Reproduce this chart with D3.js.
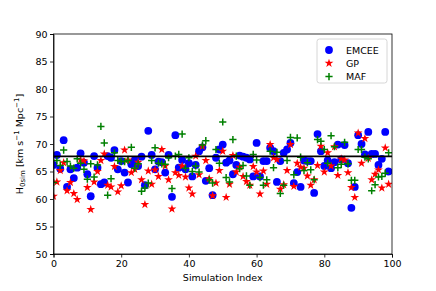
<!DOCTYPE html>
<meta charset="utf-8">
<style>
body { margin: 0; background: #fff; }
text { font-family: "DejaVu Sans", sans-serif; }
.axis text { font-size: 9.5px; fill: #000; }
.axis path, .axis line { stroke: #000; stroke-width: 0.8; }
</style>
<body>
<script src="https://cdn.jsdelivr.net/npm/d3@7"></script>
<script>

// H0 estimates per simulation
var emcee = [66.2,68.0,65.5,70.7,62.2,65.4,63.8,65.7,68.3,66.6,
             64.5,60.5,67.8,65.7,62.7,63.0,67.8,67.5,68.9,65.4,
             66.9,64.8,63.0,66.3,67.1,66.0,67.7,62.5,72.4,68.0,
             65.4,66.8,66.7,64.8,68.0,60.4,71.6,65.7,67.1,65.4,
             66.5,64.1,66.2,68.7,69.4,63.3,65.6,60.7,67.5,69.0,
             69.9,66.6,67.0,64.5,66.2,67.9,67.7,67.5,67.2,64.1,
             70.2,64.1,66.9,66.9,69.3,68.7,63.1,66.9,68.4,69.0,
             70.2,62.9,64.9,62.2,67.0,66.9,66.9,61.1,71.8,68.7,
             66.0,67.0,65.6,66.7,69.9,67.2,69.8,66.5,58.4,62.2,
             71.6,70.0,68.1,72.2,68.2,68.2,66.2,67.3,72.2,65.0];

var gp = [60.5,63.1,65.2,66.6,61.5,63.0,61.0,59.9,67.1,66.9,
          62.1,58.1,63.1,65.0,67.0,68.2,62.5,62.2,65.9,61.3,
          62.4,68.9,67.1,64.8,65.4,66.7,63.5,59.0,65.1,62.7,
          65.3,64.1,69.0,66.0,63.5,58.2,64.8,64.3,66.0,64.0,
          62.0,60.9,67.8,64.4,69.6,67.0,63.7,60.6,62.9,65.2,
          68.7,60.3,62.7,67.9,64.9,65.8,64.1,63.2,62.5,65.9,
          64.9,60.9,65.1,62.7,69.9,67.5,67.2,61.8,62.6,65.2,
          69.9,62.3,66.5,65.8,65.6,64.2,62.5,63.5,66.1,69.6,
          64.9,68.4,66.0,69.5,64.3,67.3,67.1,64.8,62.1,60.3,
          72.0,66.5,71.0,67.4,63.5,64.5,65.3,62.0,69.3,62.7];

var maf = [63.0,67.0,66.1,68.9,66.8,66.0,65.6,67.3,66.5,65.4,
           63.6,66.4,64.0,66.2,73.2,70.2,60.7,63.7,68.4,67.0,
           66.8,66.8,67.0,69.4,65.6,66.4,61.4,62.0,62.9,67.0,
           69.3,66.5,66.4,66.3,67.5,61.9,67.8,68.1,71.8,65.6,
           67.5,65.0,66.0,64.9,69.8,70.6,63.5,62.9,69.0,66.5,
           74.0,63.9,63.1,70.8,67.8,65.5,66.1,64.2,62.5,68.1,
           67.1,63.9,62.5,63.5,68.7,65.7,68.5,61.0,62.5,67.0,
           71.2,64.4,71.1,67.6,65.2,66.6,65.3,63.5,70.8,70.5,
           69.0,66.5,71.5,69.5,65.7,66.3,70.3,66.4,63.4,63.4,
           69.0,69.0,67.6,67.3,61.5,62.6,64.0,64.1,64.7,68.4];

var h0Ref = 67.74;
var xTicks = [0, 20, 40, 60, 80, 100];
var yTicks = [50, 55, 60, 65, 70, 75, 80, 85, 90];
var labels = ["EMCEE", "GP", "MAF"];
var colors = ["blue", "red", "green"];

var margin = {top: 34, right: 44, bottom: 37, left: 53.5},
    width = 436 - margin.left - margin.right,
    height = 291 - margin.top - margin.bottom;

var x = d3.scaleLinear().domain([0, 100]).range([0, width]);
var y = d3.scaleLinear().domain([50, 90]).range([height, 0]);

var svg = d3.select("body").append("svg")
    .attr("width", 436)
    .attr("height", 291)
  .append("g")
    .attr("transform", "translate(" + margin.left + "," + margin.top + ")");

svg.append("clipPath").attr("id", "clip")
  .append("rect").attr("width", width).attr("height", height);

var plot = svg.append("g").attr("clip-path", "url(#clip)");

// EMCEE circles
plot.selectAll(".emcee")
    .data(emcee)
  .enter().append("circle")
    .attr("cx", function(d, i) { return x(i); })
    .attr("cy", function(d) { return y(d); })
    .attr("r", 3.9)
    .attr("fill", colors[0]);

// GP stars
var star = d3.symbol().type(d3.symbolStar).size(24);
plot.selectAll(".gp")
    .data(gp)
  .enter().append("path")
    .attr("d", star)
    .attr("transform", function(d, i) { return "translate(" + x(i) + "," + y(d) + ")"; })
    .attr("fill", colors[1]);

// MAF pluses
var plus = "M-3.6,0H3.6M0,-3.6V3.6";
plot.selectAll(".maf")
    .data(maf)
  .enter().append("path")
    .attr("d", plus)
    .attr("transform", function(d, i) { return "translate(" + x(i) + "," + y(d) + ")"; })
    .attr("stroke", colors[2])
    .attr("stroke-width", 1.5);

// reference line
svg.append("line")
    .attr("x1", 0).attr("x2", width)
    .attr("y1", y(h0Ref)).attr("y2", y(h0Ref))
    .attr("stroke", "black")
    .attr("stroke-width", 1.7);

// axes
svg.append("g")
    .attr("class", "axis")
    .attr("transform", "translate(0," + height + ")")
    .call(d3.axisBottom(x).tickValues(xTicks).tickSize(3.5).tickPadding(2.5));

svg.append("g")
    .attr("class", "axis")
    .call(d3.axisLeft(y).tickValues(yTicks).tickSize(3.5).tickPadding(2.5));

// frame
svg.append("rect")
    .attr("width", width).attr("height", height)
    .attr("fill", "none").attr("stroke", "black").attr("stroke-width", 0.8);

// axis labels
svg.append("text")
    .attr("x", width / 2)
    .attr("y", height + 27)
    .attr("text-anchor", "middle")
    .style("font-size", "9.5px")
    .text("Simulation Index");

var ylab = svg.append("text")
    .attr("transform", "translate(-31," + (height / 2) + ") rotate(-90)")
    .attr("text-anchor", "middle")
    .style("font-size", "9.5px");
ylab.append("tspan").text("H");
ylab.append("tspan").attr("dy", 2.5).style("font-size", "7px").text("0sim");
ylab.append("tspan").attr("dy", -2.5).text(" [km s");
ylab.append("tspan").attr("dy", -4).style("font-size", "7px").text("\u22121");
ylab.append("tspan").attr("dy", 4).text(" Mpc");
ylab.append("tspan").attr("dy", -4).style("font-size", "7px").text("\u22121");
ylab.append("tspan").attr("dy", 4).text("]");

// legend
var lg = svg.append("g").attr("transform", "translate(" + (width - 75) + ",5)");
lg.append("rect")
    .attr("width", 70).attr("height", 44).attr("rx", 2.5)
    .attr("fill", "white").attr("fill-opacity", 0.8)
    .attr("stroke", "#cccccc").attr("stroke-width", 0.8);

var items = lg.selectAll(".item")
    .data(labels)
  .enter().append("g")
    .attr("transform", function(d, i) { return "translate(12," + (11 + i * 13.3) + ")"; });

items.each(function(d, i) {
  var g = d3.select(this);
  if (i === 0) g.append("circle").attr("r", 3.9).attr("fill", colors[0]);
  if (i === 1) g.append("path").attr("d", star).attr("fill", colors[1]);
  if (i === 2) g.append("path").attr("d", plus).attr("stroke", colors[2]).attr("stroke-width", 1.5);
});

items.append("text")
    .attr("x", 17)
    .attr("y", 3.5)
    .style("font-size", "9.5px")
    .text(function(d) { return d; });

</script>
</body>
